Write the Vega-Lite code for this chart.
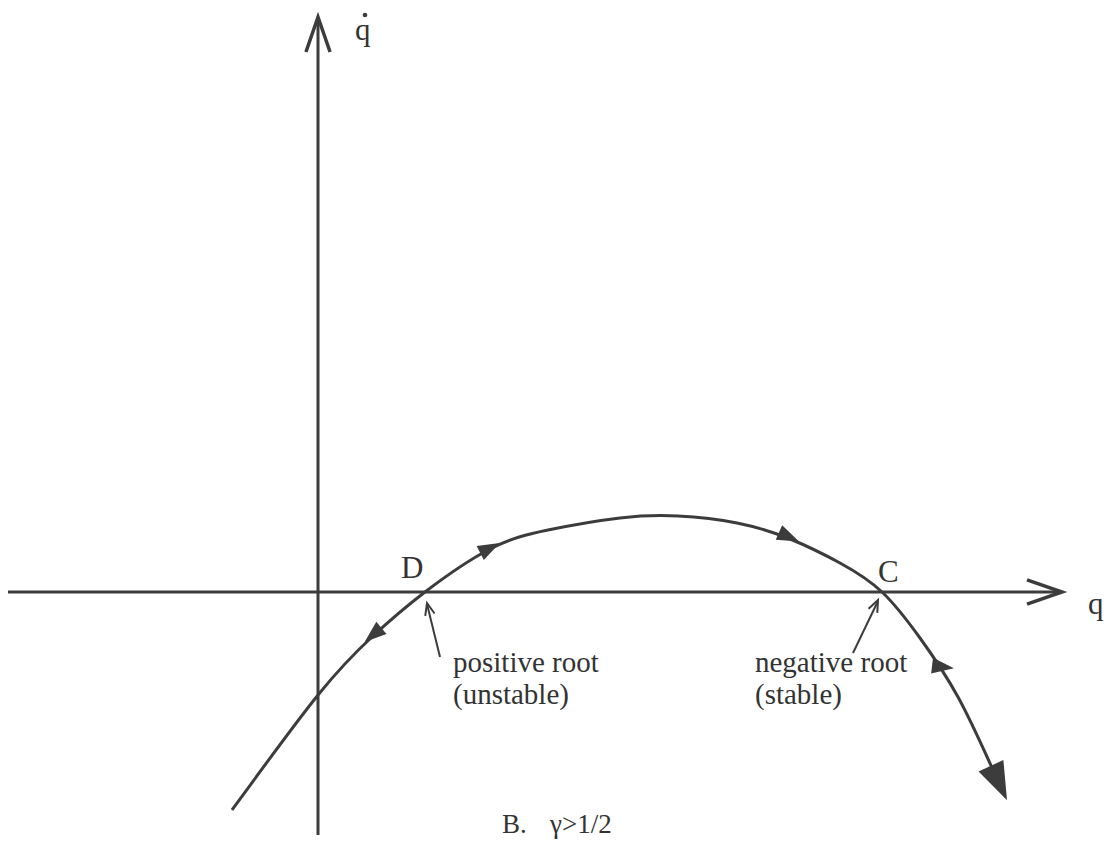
{
  "$schema": "https://vega.github.io/schema/vega-lite/v6.json",
  "autosize": {"type": "fit", "contains": "padding"},
  "width": 1111,
  "height": 849,
  "padding": 0,
  "background": "white",
  "config": {"view": {"stroke": null}},
  "datasets": {
    "curve": [
      {"q": -0.86, "qdot": -2.18},
      {"q": 0.0, "qdot": -1.03},
      {"q": 0.55, "qdot": -0.44},
      {"q": 1.07, "qdot": 0.0},
      {"q": 1.72, "qdot": 0.43},
      {"q": 2.3, "qdot": 0.62},
      {"q": 3.02, "qdot": 0.74},
      {"q": 3.6, "qdot": 0.76},
      {"q": 4.19, "qdot": 0.69},
      {"q": 4.72, "qdot": 0.53},
      {"q": 5.22, "qdot": 0.29},
      {"q": 5.64, "qdot": 0.0},
      {"q": 6.02, "qdot": -0.46},
      {"q": 6.4, "qdot": -1.05},
      {"q": 6.75, "qdot": -1.78}
    ],
    "axes": [
      {"id": "q", "q": -3.1, "qdot": 0},
      {"id": "q", "q": 7.43, "qdot": 0},
      {"id": "qdot", "q": 0, "qdot": -2.43},
      {"id": "qdot", "q": 0, "qdot": 5.74}
    ],
    "pointers": [
      {"id": "D", "q": 1.22, "qdot": -0.65},
      {"id": "D", "q": 1.09, "qdot": -0.12},
      {"id": "C", "q": 5.35, "qdot": -0.61},
      {"id": "C", "q": 5.6, "qdot": -0.09}
    ],
    "axisHeads": [
      {"q": 7.44, "qdot": 0, "direction": 90},
      {"q": 0, "qdot": 5.75, "direction": 0}
    ],
    "pointerHeads": [
      {"q": 1.09, "qdot": -0.11, "direction": 346},
      {"q": 5.6, "qdot": -0.08, "direction": 25}
    ],
    "flow": [
      {"q": 1.72, "qdot": 0.44, "direction": 63},
      {"q": 0.55, "qdot": -0.43, "direction": 230},
      {"q": 4.71, "qdot": 0.55, "direction": 114},
      {"q": 6.25, "qdot": -0.75, "direction": 97}
    ],
    "flowEnd": [
      {"q": 6.81, "qdot": -1.91, "direction": 155}
    ],
    "labels": [
      {"q": 0.83, "qdot": 0.14, "text": "D"},
      {"q": 5.6, "qdot": 0.1, "text": "C"},
      {"q": 7.7, "qdot": -0.22, "text": "q"},
      {"q": 0.37, "qdot": 5.52, "text": "q"}
    ],
    "notes": [
      {"q": 1.35, "qdot": -0.8, "text": "positive root"},
      {"q": 1.35, "qdot": -1.12, "text": "(unstable)"},
      {"q": 4.37, "qdot": -0.8, "text": "negative root"},
      {"q": 4.37, "qdot": -1.12, "text": "(stable)"}
    ],
    "dots": [
      {"q": 0.47, "qdot": 5.77}
    ],
    "caption": [
      {"q": 1.84, "qdot": -2.41, "text": "B."},
      {"q": 2.32, "qdot": -2.41, "text": "γ>1/2"}
    ]
  },
  "encoding": {
    "x": {"field": "q", "type": "quantitative", "scale": {"domain": [-3.18, 7.93], "nice": false, "zero": false}, "axis": null},
    "y": {"field": "qdot", "type": "quantitative", "scale": {"domain": [-2.57, 5.92], "nice": false, "zero": false}, "axis": null}
  },
  "layer": [
    {
      "data": {"name": "axes"},
      "mark": {"type": "line", "stroke": "#3c3c3c", "strokeWidth": 3},
      "encoding": {"detail": {"field": "id"}}
    },
    {
      "data": {"name": "axisHeads"},
      "mark": {"type": "point", "shape": "M-0.69,2L0,0L0.69,2", "filled": false, "stroke": "#3c3c3c", "strokeWidth": 3.5, "size": 1225, "opacity": 1},
      "encoding": {"angle": {"field": "direction", "type": "quantitative", "scale": null}}
    },
    {
      "data": {"name": "curve"},
      "mark": {"type": "line", "stroke": "#3c3c3c", "strokeWidth": 3, "interpolate": "natural"},
      "encoding": {}
    },
    {
      "data": {"name": "pointers"},
      "mark": {"type": "line", "stroke": "#3c3c3c", "strokeWidth": 2},
      "encoding": {"detail": {"field": "id"}}
    },
    {
      "data": {"name": "pointerHeads"},
      "mark": {"type": "point", "shape": "M-0.8,2L0,0L0.8,2", "filled": false, "stroke": "#3c3c3c", "strokeWidth": 2, "size": 144, "opacity": 1},
      "encoding": {"angle": {"field": "direction", "type": "quantitative", "scale": null}}
    },
    {
      "data": {"name": "flow"},
      "mark": {"type": "point", "shape": "M0,-1L0.72,1L-0.72,1Z", "filled": true, "fill": "#3c3c3c", "size": 484, "opacity": 1},
      "encoding": {"angle": {"field": "direction", "type": "quantitative", "scale": null}}
    },
    {
      "data": {"name": "flowEnd"},
      "mark": {"type": "point", "shape": "M0,-1L0.72,1L-0.72,1Z", "filled": true, "fill": "#3c3c3c", "size": 1444, "opacity": 1},
      "encoding": {"angle": {"field": "direction", "type": "quantitative", "scale": null}}
    },
    {
      "data": {"name": "dots"},
      "mark": {"type": "point", "shape": "circle", "filled": true, "fill": "#3c3c3c", "size": 22, "opacity": 1}
    },
    {
      "data": {"name": "labels"},
      "mark": {"type": "text", "font": "Liberation Serif", "fontSize": 31, "fill": "#333333", "align": "left", "baseline": "alphabetic"},
      "encoding": {"text": {"field": "text"}}
    },
    {
      "data": {"name": "notes"},
      "mark": {"type": "text", "font": "Liberation Serif", "fontSize": 29, "fill": "#333333", "align": "left", "baseline": "alphabetic"},
      "encoding": {"text": {"field": "text"}}
    },
    {
      "data": {"name": "caption"},
      "mark": {"type": "text", "font": "Liberation Serif", "fontSize": 27, "fill": "#333333", "align": "left", "baseline": "alphabetic"},
      "encoding": {"text": {"field": "text"}}
    }
  ]
}
